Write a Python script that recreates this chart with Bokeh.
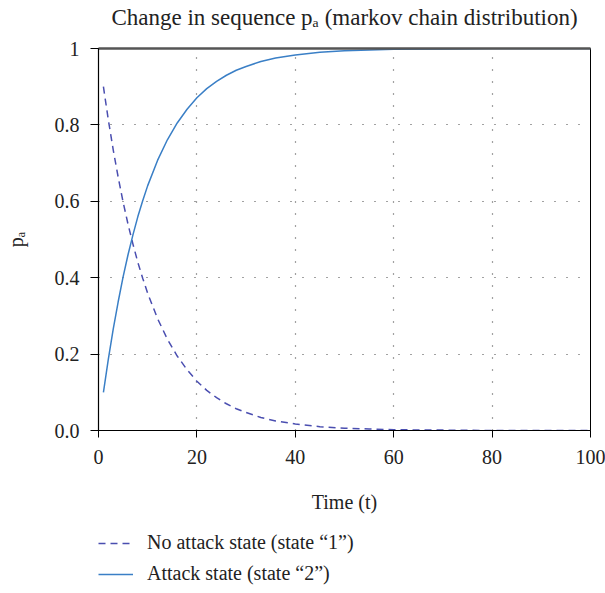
from bokeh.plotting import figure
from bokeh.layouts import column
from bokeh.models import Legend, LegendItem, FixedTicker, LinearAxis, Range1d, Label
from bokeh.embed import file_html
from bokeh.resources import INLINE

# ---- data ----
time_t = [1, 2, 3, 4, 5, 6, 7, 8, 9, 10, 12, 14, 16, 18, 20, 22, 24, 26, 28, 30,
          33, 36, 40, 45, 50, 55, 60, 70, 80, 90, 100]
no_attack = [0.900, 0.813, 0.734, 0.663, 0.598, 0.540, 0.488, 0.440, 0.398, 0.359,
             0.293, 0.239, 0.195, 0.159, 0.129, 0.105, 0.086, 0.070, 0.057, 0.047,
             0.034, 0.025, 0.017, 0.010, 0.006, 0.004, 0.002, 0.001, 0.000, 0.000, 0.000]
attack = [0.100, 0.187, 0.266, 0.337, 0.402, 0.460, 0.512, 0.560, 0.602, 0.641,
          0.707, 0.761, 0.805, 0.841, 0.871, 0.895, 0.914, 0.930, 0.943, 0.953,
          0.966, 0.975, 0.983, 0.990, 0.994, 0.996, 0.998, 0.999, 1.000, 1.000, 1.000]
x_ticks = [0, 20, 40, 60, 80, 100]
y_ticks = [0, 0.2, 0.4, 0.6, 0.8, 1]
y_tick_labels = {0: "0.0", 0.2: "0.2", 0.4: "0.4", 0.6: "0.6", 0.8: "0.8", 1: "1"}
labels = ["No attack state (state \u201c1\u201d)", "Attack state (state \u201c2\u201d)"]
title_text = "Change in sequence p\u2090 (markov chain distribution)"

FONT = "Liberation Serif"
TEXT_COLOR = "#222222"
DASH_COLOR = "#4a4eb0"
SOLID_COLOR = "#3a7fc6"


def strip(height):
    f = figure(width=605, height=height, min_border_left=0, min_border_right=0,
               min_border_top=0, min_border_bottom=0,
               x_range=Range1d(0, 1), y_range=Range1d(0, 1),
               x_axis_type=None, y_axis_type=None,
               output_backend="svg", toolbar_location=None)
    f.outline_line_color = None
    f.background_fill_color = "white"
    f.border_fill_color = "white"
    return f


# ---- title strip ----
p0 = strip(34)
p0.add_layout(Label(x=0.5, y=17, y_units="screen", text=title_text,
                    text_font=FONT, text_font_size="23px", text_color=TEXT_COLOR,
                    text_align="center", text_baseline="alphabetic"))

# ---- main chart ----
p = figure(width=605, height=486,
           min_border_left=98, min_border_right=15, min_border_top=14, min_border_bottom=90,
           x_range=Range1d(0, 100), y_range=Range1d(0, 1),
           output_backend="svg", toolbar_location=None)

p.outline_line_color = "black"
p.outline_line_width = 1
p.background_fill_color = "white"
p.border_fill_color = "white"

p.xaxis.ticker = FixedTicker(ticks=x_ticks)
p.yaxis.ticker = FixedTicker(ticks=y_ticks)
p.yaxis.major_label_overrides = y_tick_labels

for ax in (p.xaxis[0], p.yaxis[0]):
    ax.axis_line_color = "black"
    ax.axis_line_width = 1.2
    ax.major_tick_line_color = "black"
    ax.major_tick_in = 0
    ax.minor_tick_line_color = None
    ax.major_label_text_font = FONT
    ax.major_label_text_font_size = "20px"
    ax.major_label_text_color = TEXT_COLOR
    ax.axis_label_text_font = FONT
    ax.axis_label_text_font_size = "20px"
    ax.axis_label_text_font_style = "normal"
    ax.axis_label_text_color = TEXT_COLOR

p.xaxis.major_tick_out = 7
p.yaxis.major_tick_out = 8
p.xaxis.major_label_standoff = 12
p.yaxis.major_label_standoff = 11
p.xaxis.axis_label = "Time (t)"
p.yaxis.axis_label = "p\u2090"
p.xaxis.axis_label_standoff = 24
p.yaxis.axis_label_standoff = 25

top_axis = LinearAxis(ticker=FixedTicker(ticks=[]), axis_line_color="#555555",
                      axis_line_width=2.5, major_tick_line_color=None,
                      major_tick_in=0, major_tick_out=0, major_label_standoff=0,
                      minor_tick_line_color=None, major_label_text_font_size="0px")
p.add_layout(top_axis, "above")

for g in (p.xgrid[0], p.ygrid[0]):
    g.grid_line_color = "#444444"
    g.grid_line_dash = "1 11"
    g.grid_line_width = 1.2

p.line(time_t, no_attack, line_color=DASH_COLOR, line_width=1.5, line_dash="7 5")
p.line(time_t, attack, line_color=SOLID_COLOR, line_width=1.5)

# ---- legend strip below the chart ----
p2 = strip(73)
l1 = p2.line(time_t, no_attack, line_color=DASH_COLOR, line_width=1.5, line_dash="7 5", visible=False)
l2 = p2.line(time_t, attack, line_color=SOLID_COLOR, line_width=1.5, visible=False)

legend = Legend(items=[LegendItem(label=labels[0], renderers=[l1]),
                       LegendItem(label=labels[1], renderers=[l2])],
                location=(0, 8), orientation="vertical",
                label_text_font=FONT, label_text_font_size="20px",
                label_text_color=TEXT_COLOR,
                glyph_width=35, glyph_height=20, label_height=20, label_standoff=14,
                spacing=8, padding=0, margin=0,
                border_line_color=None, background_fill_alpha=0)
p2.add_layout(legend, "center")

layout = column(p0, p, p2, spacing=0)
open("out.html", "w").write(file_html(layout, INLINE))
